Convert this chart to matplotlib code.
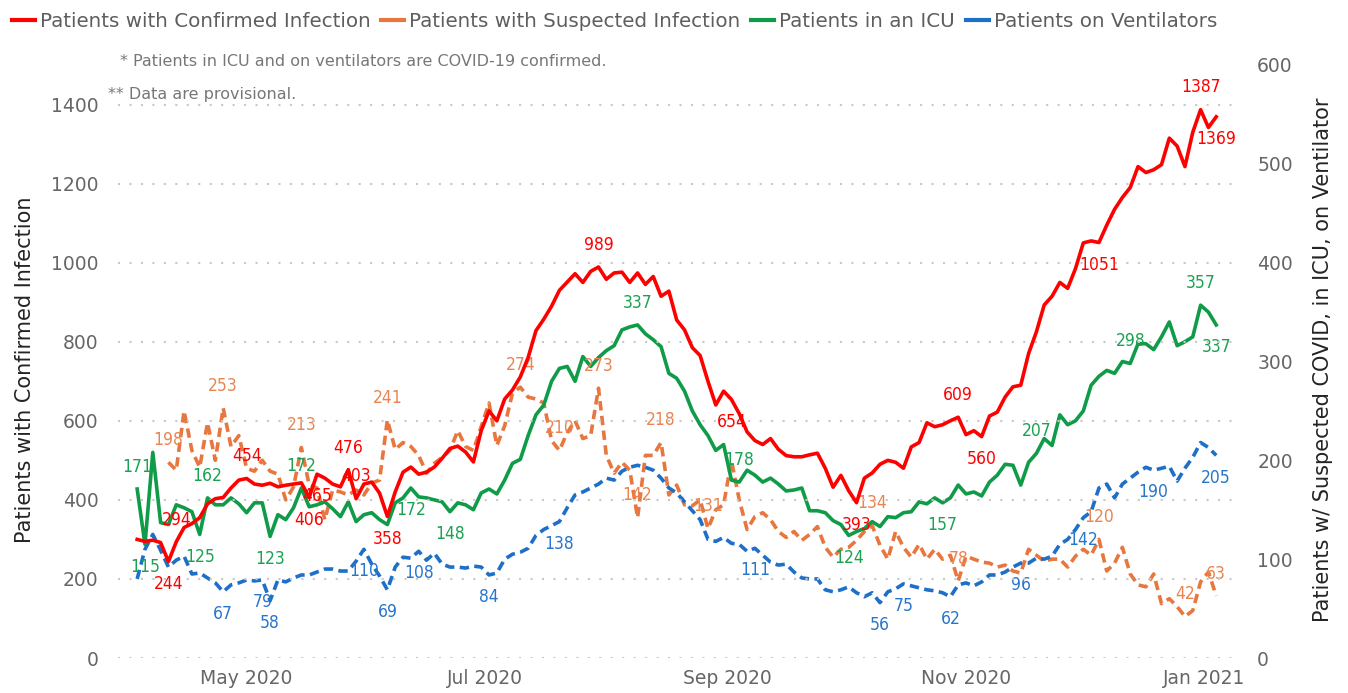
import matplotlib
matplotlib.use('Agg')
import matplotlib.pyplot as plt
from matplotlib.lines import Line2D
import numpy as np
import pandas as pd

# every 2nd day from Apr 3 2020
start = '2020-04-03'
n_pts = 139

confirmed = [
    300, 295, 298, 292, 244, 294, 330, 340, 355, 390,
    403, 406, 430, 450, 454, 440, 437, 442, 433, 437,
    440, 443, 406, 465, 455, 440, 433, 476, 403, 440,
    445, 417, 358, 420, 470, 483, 465, 470, 483, 505,
    530, 536, 521, 496, 575, 625, 600, 655, 678, 711,
    760, 828, 857, 890, 930, 951, 972, 950, 978, 989,
    958, 974, 976, 950, 974, 945, 965, 915, 928, 855,
    830, 785, 765, 700, 640, 675, 654, 618, 572, 550,
    540, 555, 528, 512, 509, 509, 514, 518, 480, 432,
    462, 423, 393, 455, 468, 490, 500, 495, 480, 534,
    545, 595, 585, 590, 600, 609, 565, 575, 560, 612,
    622, 660, 686, 690, 770, 825, 893, 915, 950, 935,
    985, 1050, 1055, 1051, 1095, 1135, 1165, 1190, 1243, 1228,
    1235, 1248, 1315, 1295, 1243, 1330, 1387, 1342, 1369]

suspected = [
    None, None, None, None, 198, 190, 250, 210, 193, 238,
    200, 253, 214, 225, 192, 189, 200, 189, 186, 160,
    173, 213, 175, 172, 140, 170, 168, 165, 170, 165,
    177, 180, 241, 211, 218, 214, 205, 187, 197, 203,
    210, 230, 214, 210, 234, 258, 215, 235, 268, 274,
    264, 262, 258, 220, 210, 228, 240, 222, 225, 273,
    205, 187, 198, 190, 142, 205, 205, 218, 165, 175,
    155, 154, 160, 131, 150, 155, 200, 160, 130, 143,
    147, 140, 128, 122, 128, 119, 125, 133, 112, 102,
    110, 112, 119, 128, 134, 114, 100, 128, 112, 102,
    115, 100, 110, 100, 104, 78, 103, 100, 97, 96,
    92, 94, 88, 86, 110, 104, 98, 100, 100, 92,
    103, 110, 104, 120, 88, 96, 112, 85, 74, 72,
    85, 55, 60, 52, 42, 48, 77, 87, 63]

icu = [
    171, 115, 208, 137, 135, 155, 152, 148, 125, 162,
    155, 155, 162, 156, 147, 157, 157, 123, 145, 140,
    152, 172, 153, 155, 158, 151, 143, 158, 138, 145,
    147, 140, 135, 157, 162, 172, 163, 162, 160, 158,
    148, 157, 155, 150, 167, 171, 166, 180, 197, 201,
    225, 246, 256, 280, 293, 295, 280, 305, 295, 304,
    311, 316, 332, 335, 337, 328, 322, 315, 288, 283,
    270, 250, 236, 225, 210, 216, 180, 178, 190, 185,
    178, 182, 176, 169, 170, 172, 149, 149, 147, 139,
    135, 124, 128, 131, 138, 133, 143, 142, 147, 148,
    158, 156, 162, 157, 162, 175, 166, 168, 164, 178,
    185, 196, 195, 175, 198, 207, 222, 215, 246, 236,
    240, 250, 276, 285, 291, 288, 300, 298, 318, 318,
    312, 325, 340, 316, 320, 325, 357, 350, 337]

vent = [
    80, 110, 125, 109, 92, 99, 103, 85, 86, 81,
    76, 67, 74, 76, 79, 78, 79, 58, 79, 77,
    81, 84, 84, 87, 90, 90, 88, 88, 98, 110,
    95, 83, 69, 92, 102, 101, 108, 99, 106, 95,
    92, 92, 91, 93, 92, 84, 86, 100, 105, 107,
    111, 124, 130, 134, 138, 152, 165, 168, 172, 176,
    182, 180, 189, 193, 195, 193, 190, 182, 172, 167,
    158, 149, 140, 120, 118, 122, 116, 115, 108, 111,
    104, 97, 94, 95, 87, 81, 80, 80, 69, 67,
    69, 72, 66, 62, 66, 56, 67, 70, 75, 73,
    71, 69, 68, 66, 62, 74, 76, 73, 77, 84,
    84, 87, 92, 96, 96, 101, 100, 103, 115, 120,
    130, 142, 148, 172, 176, 162, 176, 182, 188, 193,
    190, 192, 194, 179, 192, 203, 218, 213, 205]

# (index, +1 above / -1 below)
confirmed_lbl = [(4, -1), (5, 1), (14, 1), (22, -1), (23, -1), (27, 1), (28, 1), (32, -1),
                 (59, 1), (76, -1), (92, -1), (105, 1), (108, -1), (123, -1), (136, 1), (138, -1)]
suspected_lbl = [(4, 1), (11, 1), (21, 1), (32, 1), (49, 1), (54, 1), (59, 1), (64, 1),
                 (67, 1), (73, 1), (94, 1), (105, 1), (123, 1), (134, 1), (138, 1)]
icu_lbl = [(0, 1), (1, -1), (8, -1), (9, 1), (17, -1), (21, 1), (35, -1), (40, -1), (64, 1),
           (77, 1), (91, -1), (103, -1), (115, 1), (127, 1), (136, 1), (138, -1)]
vent_lbl = [(11, -1), (16, -1), (17, -1), (29, -1), (32, -1), (36, -1), (45, -1), (54, -1),
            (79, -1), (95, -1), (98, -1), (104, -1), (113, -1), (121, -1), (130, -1), (138, -1)]

month_ticks = ['2020-05-01', '2020-07-01', '2020-09-01', '2020-11-01', '2021-01-01']
month_labels = ['May 2020', 'Jul 2020', 'Sep 2020', 'Nov 2020', 'Jan 2021']

names = ['Patients with Confirmed Infection', 'Patients with Suspected Infection',
         'Patients in an ICU', 'Patients on Ventilators']

RED = '#FF0000'
ORANGE = '#E8773F'
GREEN = '#0F9B48'
BLUE = '#1E6FC8'
GRAY = '#666666'

dates = pd.date_range(start, periods=n_pts, freq='2D')
susp = np.array([np.nan if v is None else v for v in suspected], dtype=float)

fig = plt.figure(figsize=(13.48, 6.93), dpi=100)
ax = fig.add_axes([118/1348, 1 - 658/693, (1235 - 118)/1348, (658 - 65)/693])
ax2 = ax.twinx()

dash = (0, (2.6, 1.5))
ax2.plot(dates, susp, color=ORANGE, lw=2.6, linestyle=dash, zorder=2)
ax2.plot(dates, vent, color=BLUE, lw=2.6, linestyle=dash, zorder=2)
ax2.plot(dates, icu, color=GREEN, lw=2.6, zorder=3)
ax.plot(dates, confirmed, color=RED, lw=2.6, zorder=4)


def put_labels(a, vals, lbls, col):
    for i, pos in lbls:
        a.annotate('%d' % vals[i], (dates[i], vals[i]), xytext=(0, 9.5*pos), textcoords='offset points',
                   ha='center', va='bottom' if pos > 0 else 'top', color=col, fontsize=12.5,
                   fontstretch='condensed', zorder=10)


put_labels(ax, confirmed, confirmed_lbl, RED)
put_labels(ax2, susp, suspected_lbl, '#EA8450')
put_labels(ax2, icu, icu_lbl, '#1AA251')
put_labels(ax2, vent, vent_lbl, '#2875CC')

# put red axis on top
ax.set_zorder(ax2.get_zorder() + 1)
ax.patch.set_visible(False)

x0 = pd.Timestamp(start)
ax.set_xlim(x0 - pd.Timedelta(days=4.9), x0 + pd.Timedelta(days=280.8))
ax.set_ylim(0, 1500)
ax2.set_ylim(0, 600)
ax.set_yticks(range(0, 1401, 200))
ax2.set_yticks(range(0, 601, 100))
ax.set_xticks(pd.to_datetime(month_ticks))
ax.set_xticklabels(month_labels)

ax.grid(axis='y', color='#C8C8C8', linestyle=(0, (1, 4.5)), lw=1.5)
ax.grid(axis='x', visible=False)
for a in (ax, ax2):
    for s in a.spines.values():
        s.set_visible(False)
    a.tick_params(length=0, colors=GRAY, labelsize=13.5)
ax.tick_params(axis='y', pad=14)
ax.tick_params(axis='x', pad=8)
ax2.tick_params(axis='y', pad=16)

fig.text(25/1348, 1 - 370/693, 'Patients with Confirmed Infection', rotation=90, ha='center', va='center',
         fontsize=15, color='#252423')
fig.text(1323/1348, 1 - 360/693, 'Patients w/ Suspected COVID, in ICU, on Ventilator', rotation=90,
         ha='center', va='center', fontsize=15, color='#252423')

fig.text(120/1348, 1 - 62/693, '* Patients in ICU and on ventilators are COVID-19 confirmed.',
         ha='left', va='center', fontsize=11.5, color='#777777')
fig.text(108/1348, 1 - 95/693, '** Data are provisional.', ha='left', va='center', fontsize=11.5, color='#777777')

handles = [Line2D([], [], color=c, lw=3) for c in (RED, ORANGE, GREEN, BLUE)]
fig.legend(handles, names, loc='upper left', bbox_to_anchor=(0.0, 1.0), ncol=4, frameon=False,
           fontsize=14.3, handlelength=1.15, handletextpad=0.25, columnspacing=0.55, labelcolor='#605E5C',
           borderaxespad=0.2)

plt.savefig('out.png', dpi=100)
